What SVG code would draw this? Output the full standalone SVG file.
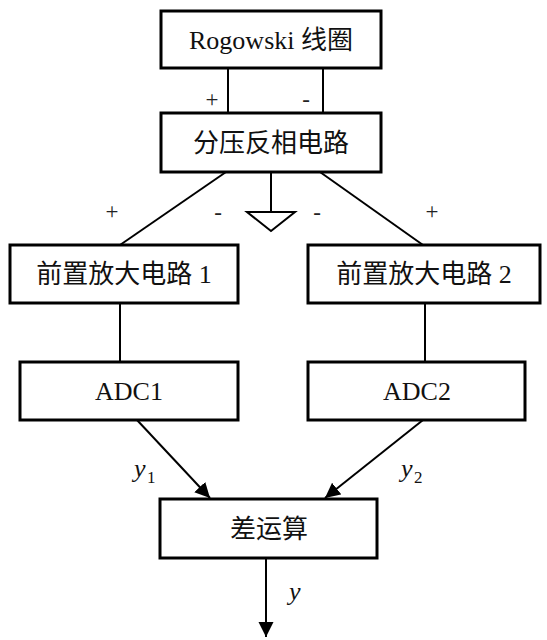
<svg xmlns="http://www.w3.org/2000/svg" width="547" height="640" viewBox="0 0 547 640">
  <style>
    .box { fill: #fff; stroke: #000; stroke-width: 3; }
    .lbl { font-family: "Liberation Serif", "Noto Sans CJK SC", serif; font-size: 26px; fill: #111; text-anchor: middle; }
    .sign { font-family: "Liberation Serif", serif; font-size: 23px; fill: #222; text-anchor: middle; }
    .var { font-family: "Liberation Serif", serif; font-style: italic; font-size: 26px; fill: #111; }
    .sub { font-family: "Liberation Serif", serif; font-size: 17px; fill: #111; }
    .wire { stroke: #000; stroke-width: 2; fill: none; }
  </style>
  <defs>
    <marker id="arr" markerUnits="userSpaceOnUse" markerWidth="16" markerHeight="16" refX="15" refY="7.5" orient="auto">
      <path d="M0,0 L15,7.5 L0,15 z" fill="#000"/>
    </marker>
  </defs>
  <rect width="547" height="640" fill="#fff"/>

  <g id="connectors">
    <line class="wire" x1="228" y1="68" x2="228" y2="113"/>
    <line class="wire" x1="323" y1="68" x2="323" y2="113"/>
    <line class="wire" x1="226" y1="172" x2="120" y2="245"/>
    <line class="wire" x1="320" y1="172" x2="423" y2="245"/>
    <line class="wire" x1="271" y1="172" x2="271" y2="212"/>
    <path class="wire" d="M247,212 L295,212 L271,231 Z"/>
    <line class="wire" x1="120" y1="303" x2="120" y2="362"/>
    <line class="wire" x1="425" y1="303" x2="425" y2="362"/>
    <line class="wire" x1="137" y1="420" x2="210" y2="498" marker-end="url(#arr)"/>
    <line class="wire" x1="423" y1="420" x2="325" y2="498" marker-end="url(#arr)"/>
    <line class="wire" x1="266" y1="558" x2="266" y2="637" marker-end="url(#arr)"/>
  </g>

  <g id="signs">
    <text class="sign" x="212" y="107">+</text>
    <text class="sign" x="306" y="107">-</text>
    <text class="sign" x="112" y="219">+</text>
    <text class="sign" x="218" y="220">-</text>
    <text class="sign" x="317" y="220">-</text>
    <text class="sign" x="432" y="219">+</text>
  </g>

  <g id="rogowski">
    <rect class="box" x="161" y="11" width="220" height="57"/>
    <text class="lbl" x="271" y="49">Rogowski 线圈</text>
  </g>
  <g id="divider">
    <rect class="box" x="161" y="113" width="220" height="59"/>
    <text class="lbl" x="271" y="152">分压反相电路</text>
  </g>
  <g id="preamp1">
    <rect class="box" x="10" y="245" width="228" height="58"/>
    <text class="lbl" x="124" y="283">前置放大电路 1</text>
  </g>
  <g id="preamp2">
    <rect class="box" x="308" y="245" width="232" height="58"/>
    <text class="lbl" x="424" y="283">前置放大电路 2</text>
  </g>
  <g id="adc1">
    <rect class="box" x="20" y="362" width="218" height="58"/>
    <text class="lbl" x="129" y="400">ADC1</text>
  </g>
  <g id="adc2">
    <rect class="box" x="308" y="362" width="217" height="58"/>
    <text class="lbl" x="417" y="400">ADC2</text>
  </g>
  <g id="diff">
    <rect class="box" x="160" y="499" width="217" height="59"/>
    <text class="lbl" x="269" y="538">差运算</text>
  </g>

  <g id="labels">
    <text class="var" x="134" y="477">y</text><text class="sub" x="147" y="483">1</text>
    <text class="var" x="401" y="477">y</text><text class="sub" x="414" y="483">2</text>
    <text class="var" x="289" y="600">y</text>
  </g>
</svg>
